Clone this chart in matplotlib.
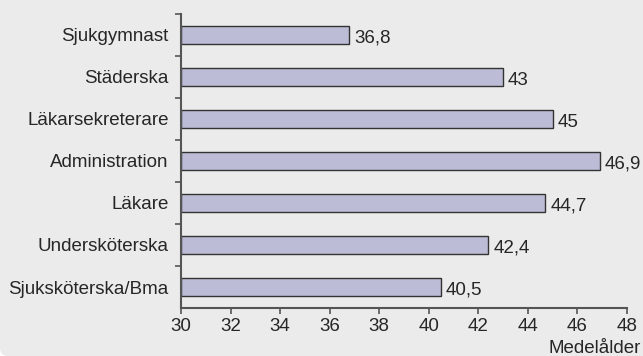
import matplotlib

matplotlib.use("Agg")
import matplotlib.pyplot as plt
import numpy as np
from matplotlib.patches import FancyBboxPatch

plt.rcParams["font.family"] = ["Liberation Sans", "DejaVu Sans"]

yrken = [
    "Sjukgymnast",
    "Städerska",
    "Läkarsekreterare",
    "Administration",
    "Läkare",
    "Undersköterska",
    "Sjuksköterska/Bma",
]
medelalder = [36.8, 43, 45, 46.9, 44.7, 42.4, 40.5]
x_ticks = [30, 32, 34, 36, 38, 40, 42, 44, 46, 48]

bg = "#ebebeb"
bar_color = "#bcbcd6"
axis_color = "#555555"
text_color = "#262626"
fs = 13.5

fig = plt.figure(figsize=(6.43, 3.56), dpi=100, facecolor="white")
# grey panel with only the lower-left corner rounded inside the frame
panel = FancyBboxPatch(
    (0, 0), 7.0, 4.0,
    boxstyle="round,pad=0,rounding_size=0.08",
    transform=fig.dpi_scale_trans, facecolor=bg, edgecolor="none", zorder=-5,
)
fig.patches.append(panel)

ax = fig.add_axes([0.2815, 0.1348, 0.6935, 0.826])
ax.set_facecolor("none")

pos = np.arange(len(yrken))
ax.barh(pos, [v - 30 for v in medelalder], left=30, height=0.41,
        color=bar_color, edgecolor="#333333", linewidth=1.0, zorder=2)

for p, v in zip(pos, medelalder):
    txt = f"{v:g}".replace(".", ",")
    ax.text(v + 0.2, p + 0.08, txt, va="center", ha="left",
            fontsize=fs, color=text_color)

ax.set_xlim(30, 48)
ax.set_ylim(len(yrken) - 0.5, -0.5)
ax.set_xticks(x_ticks)
ax.set_xticklabels([str(t) for t in x_ticks], fontsize=fs, color=text_color)
ax.set_yticks(pos)
ax.set_yticklabels(yrken, fontsize=fs, color=text_color)
ax.tick_params(axis="y", which="major", length=0, pad=9)
ax.set_yticks(np.arange(-0.5, len(yrken) - 1, 1.0), minor=True)
ax.tick_params(axis="y", which="minor", length=4, width=1.2, color=axis_color)
ax.tick_params(axis="x", length=4, width=1.2, color=axis_color, pad=3)

for side in ("top", "right"):
    ax.spines[side].set_visible(False)
for side in ("left", "bottom"):
    ax.spines[side].set_color(axis_color)
    ax.spines[side].set_linewidth(1.5)

fig.text(0.996, 3 / 356, "Medelålder", ha="right", va="baseline",
         fontsize=fs, color=text_color)

fig.savefig("out.png", dpi=100, facecolor="white")
plt.close(fig)
